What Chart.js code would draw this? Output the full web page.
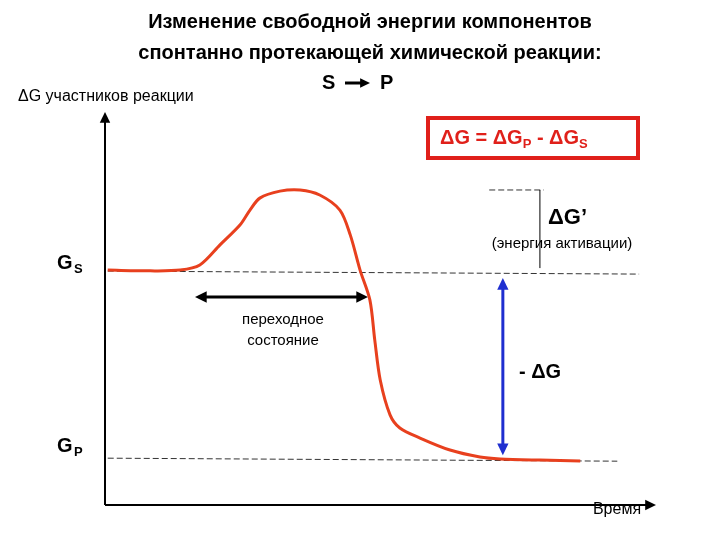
<!DOCTYPE html>
<html><head><meta charset="utf-8">
<script src="https://cdn.jsdelivr.net/npm/chart.js@4"></script>
<style>html,body{margin:0;background:#fff}#w{width:720px;height:540px}</style>
</head><body><div id="w"><canvas id="c"></canvas></div>
<script>
const timeVals=[0.5,8.3,13.8,17.4,21.1,24.8,26.6,28.4,32.1,35.8,39.4,43.1,45,46.8,48.6,49.5,50.5,52.3,54.1,57.8,63.3,68.8,72.5,79.8,87.2];
const energyVals=[60.7,60.5,60.7,62,67.2,72.4,76.2,79.3,81.1,81.4,80.1,76.2,69.8,60.7,53,42.6,32.3,23.3,19.9,17.3,14.2,12.4,11.9,11.6,11.4];
const GS=60.7, GP=12.1, GMAX=81.4;
const F='Arial, "Liberation Sans", sans-serif';
function arrowHead(ctx,x,y,dx,dy,s){const a=Math.atan2(dy,dx);ctx.beginPath();ctx.moveTo(x,y);ctx.lineTo(x-s*Math.cos(a-0.45),y-s*Math.sin(a-0.45));ctx.lineTo(x-s*Math.cos(a+0.45),y-s*Math.sin(a+0.45));ctx.closePath();ctx.fill();}
function seq(c,x,y,parts){for(const [t,f,dy] of parts){c.font=f;c.fillText(t,x,y+dy);x+=c.measureText(t).width;}}
const deco={id:'deco',beforeDatasetsDraw(ch){const c=ch.ctx,x=ch.scales.x,y=ch.scales.y;c.save();
 c.strokeStyle='#000';c.fillStyle='#000';c.lineWidth=2;
 c.beginPath();c.moveTo(x.left,y.bottom);c.lineTo(x.left,y.top);c.stroke();arrowHead(c,x.left,y.top-6,0,-1,12);
 c.beginPath();c.moveTo(x.left,y.bottom);c.lineTo(x.right,y.bottom);c.stroke();arrowHead(c,x.right+6,y.bottom,1,0,12);
 c.lineWidth=1;c.strokeStyle='#333';c.setLineDash([6,3]);
 c.beginPath();c.moveTo(x.getPixelForValue(0.5),y.getPixelForValue(GS)+1);c.lineTo(x.getPixelForValue(98),y.getPixelForValue(GS)+4);c.stroke();
 c.beginPath();c.moveTo(x.getPixelForValue(0.5),y.getPixelForValue(GP));c.lineTo(x.getPixelForValue(94),y.getPixelForValue(GP)+3);c.stroke();
 c.beginPath();c.moveTo(x.getPixelForValue(70.5),y.getPixelForValue(GMAX));c.lineTo(x.getPixelForValue(80.5),y.getPixelForValue(GMAX));c.stroke();
 c.setLineDash([]);
 const xa=x.getPixelForValue(79.8);c.lineWidth=1;c.strokeStyle='#000';
 c.beginPath();c.moveTo(xa,y.getPixelForValue(GMAX));c.lineTo(xa,y.getPixelForValue(GS)-2);c.stroke();
 const xb=x.getPixelForValue(73);c.strokeStyle='#1f2fd0';c.fillStyle='#1f2fd0';c.lineWidth=3;
 const yb1=y.getPixelForValue(GS)+8,yb2=y.getPixelForValue(GP)-3;
 c.beginPath();c.moveTo(xb,yb1+8);c.lineTo(xb,yb2-8);c.stroke();arrowHead(c,xb,yb1,0,-1,13);arrowHead(c,xb,yb2,0,1,13);
 c.strokeStyle='#000';c.fillStyle='#000';c.lineWidth=3;const ya=297,x1=195,x2=368;
 c.beginPath();c.moveTo(x1+8,ya);c.lineTo(x2-8,ya);c.stroke();arrowHead(c,x1,ya,-1,0,13);arrowHead(c,x2,ya,1,0,13);
 // title arrow
 c.lineWidth=3;c.beginPath();c.moveTo(345,83);c.lineTo(362,83);c.stroke();arrowHead(c,370,83,1,0,11);
 c.strokeStyle='#e0201a';c.lineWidth=4;c.strokeRect(428,118,210,40);
 c.fillStyle='#000';c.textAlign='center';c.textBaseline='middle';
 c.font='bold 20px '+F;
 c.fillText('Изменение свободной энергии компонентов',370,22);
 c.fillText('спонтанно протекающей химической реакции:',370,53);
 c.textAlign='left';c.fillText('S',322,83);c.fillText('P',380,83);
 c.font='16px '+F;c.fillText('\u0394G участников реакции',18,97);
 c.font='bold 20px '+F;c.fillText('G',57,263);c.fillText('G',57,446);
 c.font='bold 13px '+F;c.fillText('S',74,269);c.fillText('P',74,452);
 c.fillStyle='#e0201a';
 const B='bold 20px '+F,S='bold 13px '+F;
 seq(c,440,138,[['\u0394G = \u0394G',B,0],['P',S,6],[' - \u0394G',B,0],['S',S,6]]);
 c.fillStyle='#000';c.font='bold 22px '+F;c.fillText('\u0394G\u2019',548,218);
 c.font='15px '+F;c.textAlign='center';c.fillText('(энергия активации)',562,244);
 c.fillText('переходное',283,320);c.fillText('состояние',283,341);
 c.font='bold 20px '+F;c.fillText('- \u0394G',540,372);
 c.font='16px '+F;c.fillText('Время',617,510);
 c.restore();}};
new Chart(document.getElementById('c'),{type:'line',
 data:{datasets:[{data:timeVals.map((t,i)=>({x:t,y:energyVals[i]})),borderColor:'#e8401e',borderWidth:3,pointRadius:0,tension:0.3,fill:false}]},
 options:{responsive:true,maintainAspectRatio:false,animation:false,
  layout:{padding:{left:105,right:70,top:118,bottom:35}},
  plugins:{legend:{display:false},tooltip:{enabled:false}},
  scales:{x:{type:'linear',min:0,max:100,display:false},y:{min:0,max:100,display:false}}},
 plugins:[deco]});
</script></body></html>
